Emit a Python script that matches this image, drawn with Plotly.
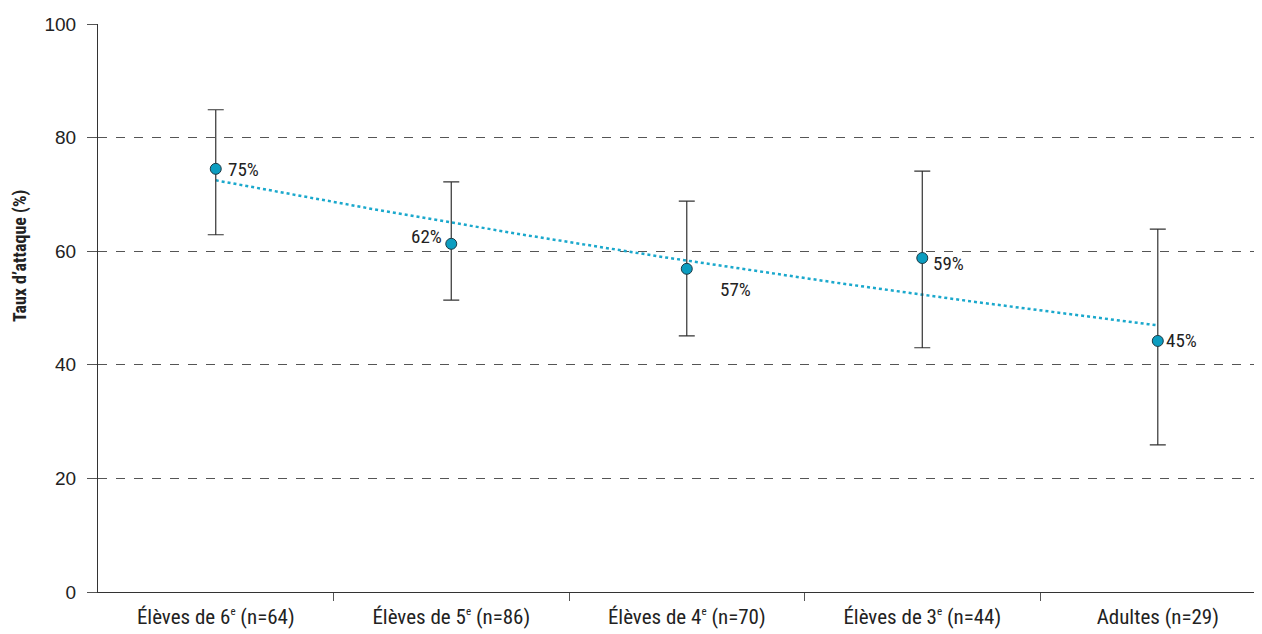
import numpy as np
import plotly.graph_objects as go

SUP_E = "<sup><span style='font-size:11px'>e</span></sup>"
categories = ["Élèves de 6" + SUP_E + " (n=64)", "Élèves de 5" + SUP_E + " (n=86)",
              "Élèves de 4" + SUP_E + " (n=70)", "Élèves de 3" + SUP_E + " (n=44)",
              "Adultes (n=29)"]
rates = [74.5, 61.3, 56.9, 58.8, 44.2]
ci_low = [62.9, 51.4, 45.1, 43.0, 25.9]
ci_high = [84.9, 72.2, 68.8, 74.1, 63.9]
labels = ["75%", "62%", "57%", "59%", "45%"]
label_dx = [28, -25, 49, 26, 24]
label_dy = [1, -7, 21, 5, 0]
y_ticks = [0, 20, 40, 60, 80, 100]

xpos = np.arange(len(categories))

# exponential trendline fitted on the data
b, a = np.polyfit(xpos + 1, np.log(rates), 1)
xt = np.linspace(0, len(categories) - 1, 200)
yt = np.exp(a + b * (xt + 1))

FONT = "Liberation Sans Narrow, Arial Narrow, Roboto Condensed, sans-serif"
FONT_Y = "Liberation Sans, Arial, Helvetica, sans-serif"

fig = go.Figure()
fig.add_trace(go.Scatter(
    x=xt, y=yt, mode="lines",
    line=dict(color="#1AA8CC", width=2.5, dash="dot"),
    hoverinfo="skip", showlegend=False))
fig.add_trace(go.Scatter(
    x=xpos, y=rates, mode="markers",
    marker=dict(size=11, color="#0C9DC0", line=dict(color="#1d3a45", width=1)),
    error_y=dict(type="data", symmetric=False,
                 array=[h - r for h, r in zip(ci_high, rates)],
                 arrayminus=[r - l for r, l in zip(rates, ci_low)],
                 color="#333333", thickness=1.2, width=8),
    showlegend=False))

for i, (r, t) in enumerate(zip(rates, labels)):
    fig.add_annotation(x=xpos[i], y=r, text=t, showarrow=False,
                       xshift=label_dx[i], yshift=-label_dy[i],
                       font=dict(size=19, color="#222222", family=FONT))

# y-axis title (placed above the vertical centre as in the original)
fig.add_annotation(text="<b>Taux d’attaque (%)</b>", textangle=-90,
                   xref="paper", yref="paper", x=-0.067, y=0.592,
                   xanchor="center", yanchor="middle", showarrow=False,
                   font=dict(size=18, family=FONT, color="#222222"))

fig.update_layout(
    width=1254, height=626,
    margin=dict(l=90, r=2, t=16, b=42),
    plot_bgcolor="white", paper_bgcolor="white",
    font=dict(family=FONT, size=20, color="#222222"),
    xaxis=dict(range=[-0.5, 4.434], tickmode="array", tickvals=list(xpos),
               ticktext=categories, ticks="", showgrid=False, zeroline=False,
               showline=True, linecolor="#333333", linewidth=1.2,
               tickfont=dict(size=21, family=FONT), ticklabelstandoff=6,
               minor=dict(tickmode="array", tickvals=[0.5, 1.5, 2.5, 3.5],
                          ticks="outside", ticklen=8, tickcolor="#555555",
                          showgrid=False)),
    yaxis=dict(range=[0, 100], tickvals=y_ticks, ticks="outside", ticklen=10,
               tickcolor="#555555", showline=True, linecolor="#333333",
               linewidth=1.2, showgrid=True, gridcolor="#555555",
               griddash="dash", gridwidth=1, zeroline=False,
               tickfont=dict(size=19, family=FONT_Y), ticklabelstandoff=7),
)
fig.write_html("out.html")
